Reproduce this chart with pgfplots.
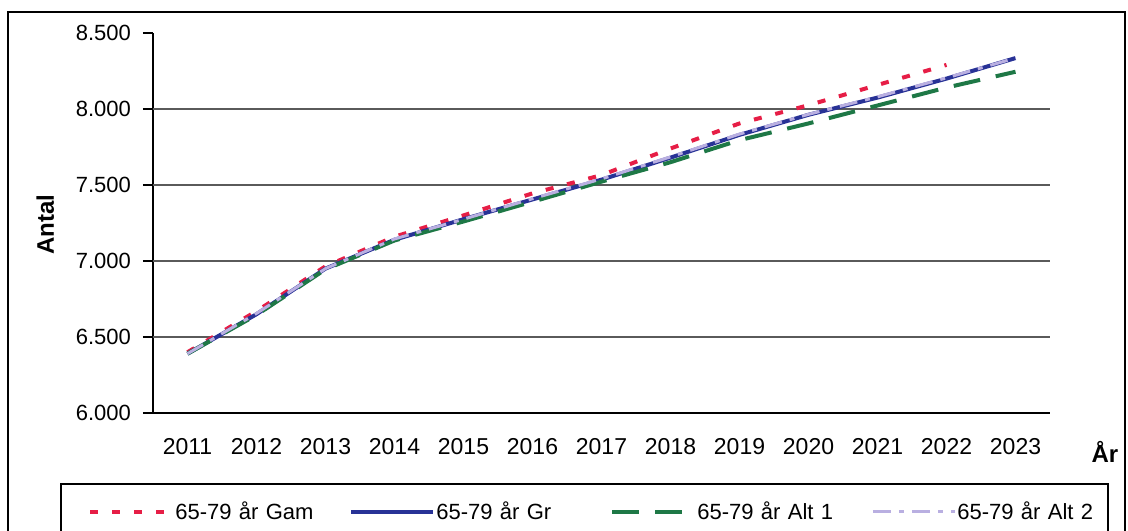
\documentclass[border=0pt]{standalone}
\usepackage{fontspec}
\setmainfont{Liberation Sans}
\usepackage{pgfplots}
\pgfplotsset{compat=1.18}

\definecolor{gam}{RGB}{230,30,70}
\definecolor{gr}{RGB}{40,50,150}
\definecolor{altone}{RGB}{30,120,70}
\definecolor{alttwo}{RGB}{185,175,225}
\definecolor{gridc}{RGB}{90,90,90}

\begin{document}
\begin{tikzpicture}
\begin{axis}[
    name=ax,
    scale only axis,
    width=448.5pt, height=190pt,
    xmin=-0.5, xmax=12.5,
    ymin=6000, ymax=8500,
    axis x line=bottom, axis y line=left,
    axis line style={-, line width=0.7pt},
    tick align=outside,
    tick style={black, line width=0.6pt},
    major tick length=5pt,
    xtick={0,...,12},
    xticklabels={2011,2012,2013,2014,2015,2016,2017,2018,2019,2020,2021,2022,2023},
    xtick style={draw=none},
    xticklabel style={yshift=-4pt, font=\fontsize{11.5}{13}\selectfont},
    extra x ticks={-0.5,0.5,...,12.5},
    extra x tick labels={},
    extra x tick style={tick style={draw=black, line width=0.6pt}},
    ytick={6000,6500,...,8500},
    extra y ticks={6500,7000,7500,8000},
    extra y tick labels={},
    extra y tick style={grid=major, major tick length=0pt},
    major grid style={gridc, line width=0.6pt},
    scaled y ticks=false,
    /pgf/number format/assume math mode=true,
    yticklabel style={xshift=-2.5pt, font=\fontsize{11}{13}\selectfont,
        /pgf/number format/.cd, fixed, 1000 sep={.}},
    ylabel={Antal},
    ylabel style={at={(axis description cs:-0.12,0.495)}, anchor=center,
        font=\bfseries\fontsize{12}{14}\selectfont},
    xlabel={År},
    xlabel style={at={(axis description cs:1.0613,-0.1026)}, anchor=center,
        font=\bfseries\fontsize{12}{14}\selectfont},
    legend columns=4,
    legend image code/.code={\draw[#1] (0pt,0pt) -- (41pt,0pt);},
    legend style={draw=none, fill=none, inner sep=0pt,
        at={(-0.0725,-0.2605)}, anchor=west,
        nodes={text width=72pt, inner xsep=0.5pt, font=\fontsize{11}{13}\selectfont},
        /tikz/every even column/.append style={column sep=14.5pt}},
]

% 65-79 år Gam
\addplot[gam, line width=2pt, dash pattern=on 4pt off 7pt]
    coordinates {
    (0,6400)(1,6670)(2,6965)(3,7160)(4,7300)(5,7445)(6,7565)
    (7,7740)(8,7905)(9,8025)(10,8158)(11,8290)
    };
\addlegendentry{65-79 år Gam}

% 65-79 år Gr
\addplot[gr, line width=2pt]
    coordinates {
    (0,6390)(1,6650)(2,6950)(3,7140)(4,7275)(5,7405)(6,7535)
    (7,7680)(8,7830)(9,7962)(10,8075)(11,8200)(12,8335)
    };
\addlegendentry{65-79 år Gr}

% 65-79 år Alt 1
\addplot[altone, line width=2pt, dash pattern=on 13.5pt off 8pt]
    coordinates {
    (0,6390)(1,6645)(2,6945)(3,7135)(4,7260)(5,7390)(6,7522)
    (7,7650)(8,7795)(9,7905)(10,8023)(11,8141)(12,8245)
    };
\addlegendentry{65-79 år Alt 1}

% 65-79 år Alt 2
\addplot[alttwo, line width=1.5pt, dash pattern=on 9pt off 4pt on 2.5pt off 4pt]
    coordinates {
    (0,6390)(1,6655)(2,6950)(3,7145)(4,7275)(5,7410)(6,7540)
    (7,7685)(8,7835)(9,7965)(10,8080)(11,8205)(12,8335)
    };
\addlegendentry{65-79 år Alt 2}

\end{axis}

% frame and legend box, in pixel units of the reference
\begin{scope}[shift={(ax.south west)}, xshift=-76.5pt, yshift=206.5pt, x=0.5pt, y=-0.5pt]
\path[use as bounding box] (0,0) rectangle (1128,530);
\draw[line width=0.8pt] (8,532) -- (8,12) -- (1125,12) -- (1125,532);
\draw[line width=0.7pt] (61,532) -- (61,484) -- (1108,484) -- (1108,532);
\end{scope}
\end{tikzpicture}
\end{document}
